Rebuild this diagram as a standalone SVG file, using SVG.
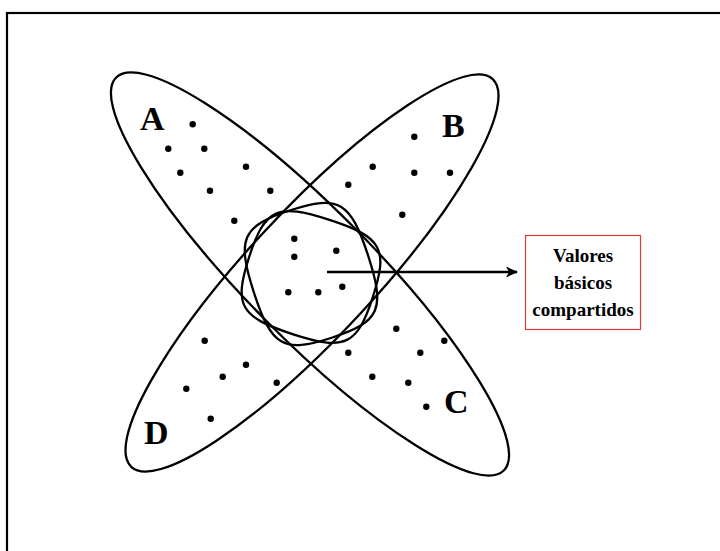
<svg xmlns="http://www.w3.org/2000/svg" width="720" height="551" viewBox="0 0 720 551">
<style>
.frame{fill:none;stroke:#000;stroke-width:2.2}
.ell{fill:none;stroke:#000;stroke-width:2.3}
.core{fill:none;stroke:#000;stroke-width:2.3}
.dot{fill:#000}
.lbl{font-family:"Liberation Serif","Times New Roman",serif;font-weight:bold;font-size:34px;fill:#000}
.box{fill:#fff;stroke:#e53935;stroke-width:1.2}
.btxt{font-family:"Liberation Serif","Times New Roman",serif;font-weight:bold;font-size:19px;fill:#000;text-anchor:middle}
.conn{fill:none;stroke:#000;stroke-width:2.5}
</style>
<defs>
<marker id="ah" viewBox="0 0 12 12" refX="11" refY="6" markerWidth="12" markerHeight="12" markerUnits="userSpaceOnUse" orient="auto">
<path d="M0,0.5 L12,6 L0,11.5 L3,6 Z" fill="#000"/>
</marker>
</defs>
<rect class="frame" x="7" y="13" width="800" height="800"/>

<g id="setA-C">
<ellipse class="ell" cx="310" cy="274" rx="276" ry="64" transform="rotate(45.4 310 274)"/>
</g>
<g id="setB-D">
<ellipse class="ell" cx="312" cy="273" rx="265" ry="63" transform="rotate(-47 312 273)"/>
</g>
<g id="core">
<path class="core" d="M1,0 C1,0.85 0.85,1 0,1 C-0.85,1 -1,0.85 -1,0 C-1,-0.85 -0.85,-1 0,-1 C0.85,-1 1,-0.85 1,0 Z" transform="translate(311 277) rotate(18) scale(65 60)" vector-effect="non-scaling-stroke"/>
<path class="core" d="M1,0 C1,0.85 0.85,1 0,1 C-0.85,1 -1,0.85 -1,0 C-1,-0.85 -0.85,-1 0,-1 C0.85,-1 1,-0.85 1,0 Z" transform="translate(311 274) rotate(-18) scale(60 67)" vector-effect="non-scaling-stroke"/>
</g>

<g id="dots">
<circle class="dot" cx="192.7" cy="124.3" r="3.2"/>
<circle class="dot" cx="168.3" cy="148.7" r="3.2"/>
<circle class="dot" cx="204.3" cy="148.7" r="3.2"/>
<circle class="dot" cx="246" cy="166.7" r="3.2"/>
<circle class="dot" cx="180.3" cy="172.7" r="3.2"/>
<circle class="dot" cx="210" cy="190.7" r="3.2"/>
<circle class="dot" cx="270.3" cy="190.7" r="3.2"/>
<circle class="dot" cx="234.3" cy="220.7" r="3.2"/>
<circle class="dot" cx="414.3" cy="136.7" r="3.2"/>
<circle class="dot" cx="372.7" cy="166.7" r="3.2"/>
<circle class="dot" cx="414.3" cy="172.7" r="3.2"/>
<circle class="dot" cx="450" cy="172.7" r="3.2"/>
<circle class="dot" cx="348.3" cy="184.7" r="3.2"/>
<circle class="dot" cx="402.3" cy="214.7" r="3.2"/>
<circle class="dot" cx="294.3" cy="238.7" r="3.2"/>
<circle class="dot" cx="294.3" cy="256.7" r="3.2"/>
<circle class="dot" cx="336.3" cy="250.7" r="3.2"/>
<circle class="dot" cx="288.3" cy="292.3" r="3.2"/>
<circle class="dot" cx="318.3" cy="292.3" r="3.2"/>
<circle class="dot" cx="342.3" cy="286.7" r="3.2"/>
<circle class="dot" cx="396.3" cy="328.7" r="3.2"/>
<circle class="dot" cx="444.3" cy="340.7" r="3.2"/>
<circle class="dot" cx="348.3" cy="352.7" r="3.2"/>
<circle class="dot" cx="420.3" cy="352.7" r="3.2"/>
<circle class="dot" cx="372.3" cy="376.7" r="3.2"/>
<circle class="dot" cx="408.3" cy="382.7" r="3.2"/>
<circle class="dot" cx="426.3" cy="406.7" r="3.2"/>
<circle class="dot" cx="204.7" cy="340.7" r="3.2"/>
<circle class="dot" cx="246" cy="364.7" r="3.2"/>
<circle class="dot" cx="222.7" cy="376.7" r="3.2"/>
<circle class="dot" cx="276.7" cy="382.7" r="3.2"/>
<circle class="dot" cx="186.3" cy="388.7" r="3.2"/>
<circle class="dot" cx="210.7" cy="418.7" r="3.2"/>
</g>

<g id="labels">
<text class="lbl" x="140" y="130">A</text>
<text class="lbl" x="442" y="137">B</text>
<text class="lbl" x="444" y="413">C</text>
<text class="lbl" x="144" y="444">D</text>
</g>

<g id="connectors">
<line class="conn" x1="327" y1="272" x2="517" y2="272" marker-end="url(#ah)"/>
</g>

<g id="box-valores">
<rect class="box" x="525.5" y="235.5" width="115" height="94"/>
<text class="btxt" x="583" y="262">Valores</text>
<text class="btxt" x="583" y="289">básicos</text>
<text class="btxt" x="583" y="316">compartidos</text>
</g>
</svg>
